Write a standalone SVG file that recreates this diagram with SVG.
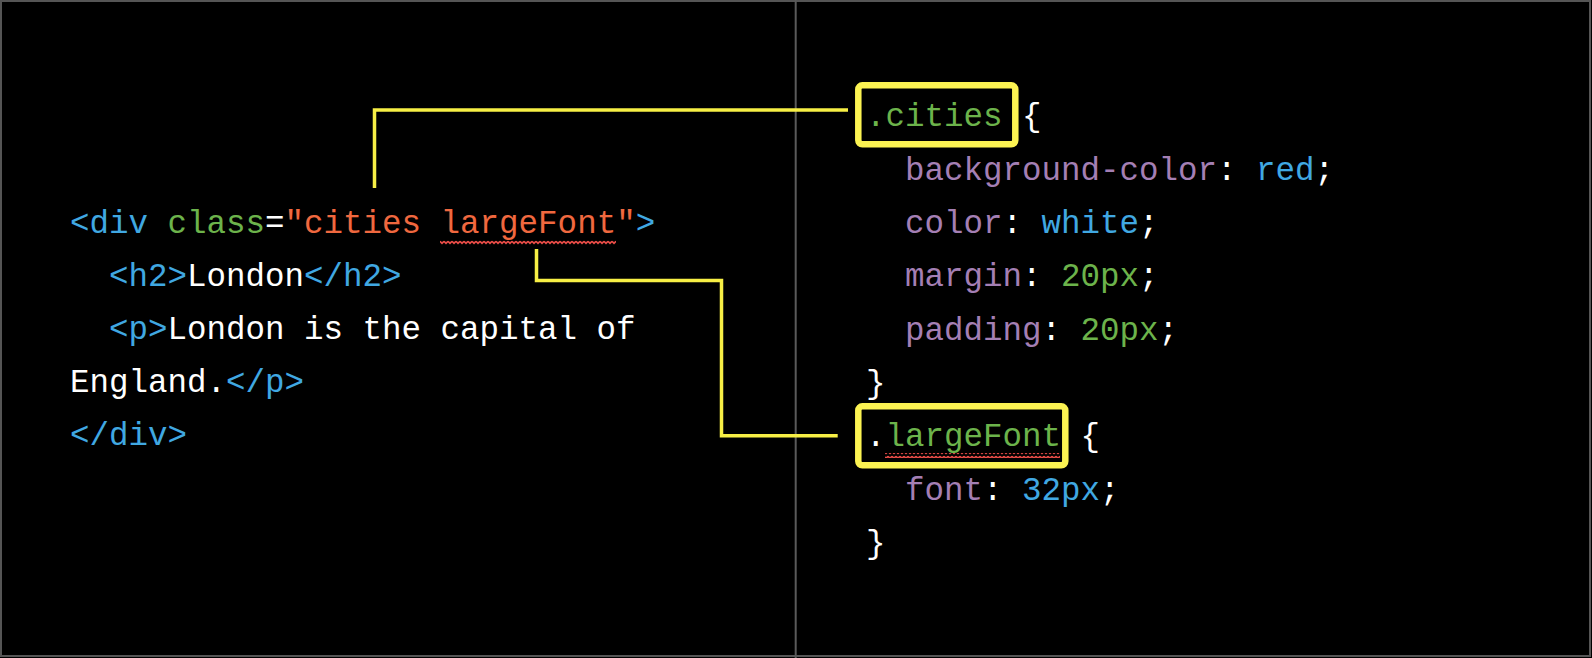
<svg xmlns="http://www.w3.org/2000/svg" width="1592" height="658" viewBox="0 0 1592 658">
<style>
text{font-family:"Liberation Mono","DejaVu Sans Mono",monospace;font-size:32.5px;white-space:pre}
.w{fill:#ffffff}.tag{fill:#40a8e2}.attr{fill:#6cb34b}.str{fill:#f0683f}
.prop{fill:#a47fb4}.val{fill:#40a8e2}.num{fill:#6cb34b}
.box{fill:none;stroke:#fcf352;stroke-width:6.5}
.conn{fill:none;stroke:#f7ef45;stroke-width:3.5;stroke-linejoin:miter}
</style>
<defs>
<pattern id="sq" x="0" y="0" width="4" height="5" patternUnits="userSpaceOnUse">
<path d="M0 1.2 L2 3.4 L4 1.2" fill="none" stroke="#ec4d48" stroke-width="1.6"/>
</pattern>
</defs>
<rect x="0" y="0" width="1592" height="658" fill="#000"/>
<rect x="1" y="1" width="1589" height="655" fill="none" stroke="#555" stroke-width="2"/>
<line x1="795.7" y1="0" x2="795.7" y2="658" stroke="#5a5a5a" stroke-width="2"/>

<g id="html-code">
<text xml:space="preserve" x="70" y="233"><tspan class="tag">&lt;div</tspan><tspan class="w"> </tspan><tspan class="attr">class</tspan><tspan class="w">=</tspan><tspan class="str">"cities largeFont"</tspan><tspan class="tag">&gt;</tspan></text>
<text xml:space="preserve" x="109" y="286"><tspan class="tag">&lt;h2&gt;</tspan><tspan class="w">London</tspan><tspan class="tag">&lt;/h2&gt;</tspan></text>
<text xml:space="preserve" x="109" y="339"><tspan class="tag">&lt;p&gt;</tspan><tspan class="w">London is the capital of</tspan></text>
<text xml:space="preserve" x="70" y="392"><tspan class="w">England.</tspan><tspan class="tag">&lt;/p&gt;</tspan></text>
<text xml:space="preserve" x="70" y="445"><tspan class="tag">&lt;/div&gt;</tspan></text>
<rect x="440" y="240" width="176" height="5" fill="url(#sq)"/>
</g>

<g id="css-cities">
<rect class="box" x="858.3" y="85.3" width="157" height="59" rx="4"/>
<text xml:space="preserve" x="866" y="126"><tspan class="attr">.cities</tspan><tspan class="w"> {</tspan></text>
<text xml:space="preserve" x="905" y="179.5"><tspan class="prop">background-color</tspan><tspan class="w">: </tspan><tspan class="val">red</tspan><tspan class="w">;</tspan></text>
<text xml:space="preserve" x="905" y="233"><tspan class="prop">color</tspan><tspan class="w">: </tspan><tspan class="val">white</tspan><tspan class="w">;</tspan></text>
<text xml:space="preserve" x="905" y="286"><tspan class="prop">margin</tspan><tspan class="w">: </tspan><tspan class="num">20px</tspan><tspan class="w">;</tspan></text>
<text xml:space="preserve" x="905" y="339.5"><tspan class="prop">padding</tspan><tspan class="w">: </tspan><tspan class="num">20px</tspan><tspan class="w">;</tspan></text>
<text xml:space="preserve" x="866" y="393" class="w">}</text>
</g>

<g id="css-largefont">
<rect class="box" x="858.3" y="406.3" width="207" height="59" rx="4"/>
<text xml:space="preserve" x="866" y="446"><tspan class="w">.</tspan><tspan class="attr">largeFont</tspan><tspan class="w"> {</tspan></text>
<text xml:space="preserve" x="905" y="499.5"><tspan class="prop">font</tspan><tspan class="w">: </tspan><tspan class="val">32px</tspan><tspan class="w">;</tspan></text>
<text xml:space="preserve" x="866" y="553" class="w">}</text>
<rect x="885" y="453" width="175" height="5" fill="url(#sq)"/>
</g>

<g id="connectors">
<path class="conn" d="M374.5 188 V110 H848"/>
<path class="conn" d="M536.5 249 V280.5 H721.5 V435.7 H837.7"/>
</g>
</svg>
